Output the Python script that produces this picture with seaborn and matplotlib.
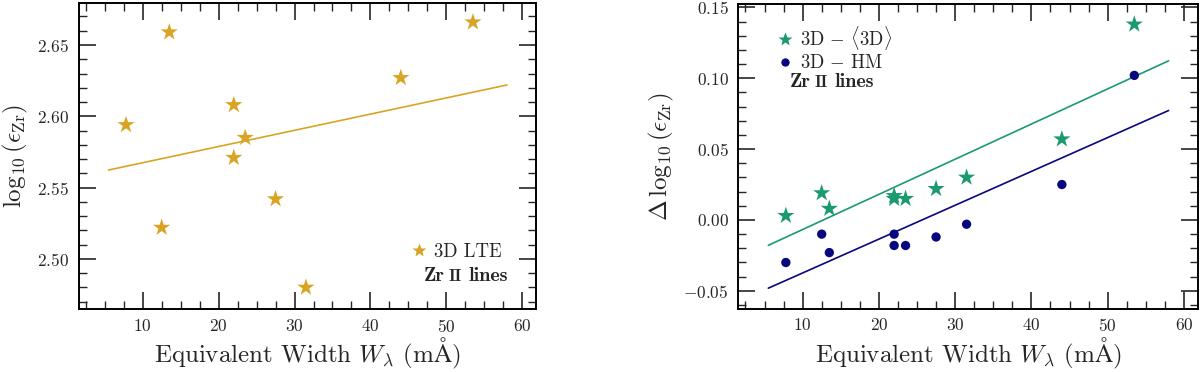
from matplotlib import pyplot as plt
from matplotlib.lines import Line2D
from matplotlib.ticker import MultipleLocator
import seaborn as sns
import numpy as np

# Data
ew = [7.8, 12.5, 13.5, 22.0, 22.0, 23.5, 27.5, 31.5, 44.0, 53.5]
abund_3d_lte = [2.594, 2.522, 2.659, 2.608, 2.571, 2.585, 2.542, 2.480, 2.627, 2.666]
delta_3d_mean3d = [0.003, 0.019, 0.008, 0.017, 0.015, 0.015, 0.022, 0.030, 0.057, 0.138]
delta_3d_hm = [-0.030, -0.010, -0.023, -0.010, -0.018, -0.018, -0.012, -0.003, 0.025, 0.102]
fit_range = [5.5, 58.0]

gold = '#d9a424'
green = '#1b9a6f'
navy = '#08087e'

sns.set_style("ticks")
plt.rcParams.update({
    'font.family': 'serif',
    'font.serif': ['cmr10'],
    'mathtext.fontset': 'cm',
    'axes.formatter.use_mathtext': True,
    'axes.linewidth': 1.4,
    'axes.edgecolor': 'black',
    'xtick.direction': 'in',
    'ytick.direction': 'in',
    'xtick.top': True,
    'ytick.right': True,
    'xtick.major.size': 12.5,
    'ytick.major.size': 12.5,
    'xtick.minor.size': 6,
    'ytick.minor.size': 6,
    'xtick.major.width': 1.2,
    'ytick.major.width': 1.2,
    'xtick.minor.width': 1.0,
    'ytick.minor.width': 1.0,
    'xtick.labelsize': 12.5,
    'ytick.labelsize': 12.5,
    'xtick.major.pad': 6,
    'ytick.major.pad': 7,
    'axes.labelsize': 18,
})


def fit_line(x, y):
    "Least-squares straight line evaluated over the fit range."
    p = np.polyfit(x, y, 1)
    xs = np.array(fit_range)
    return xs, np.polyval(p, xs)


def style_axes(ax):
    ax.xaxis.set_major_locator(MultipleLocator(10))
    ax.xaxis.set_minor_locator(MultipleLocator(2.5))
    ax.yaxis.set_major_locator(MultipleLocator(0.05))
    ax.yaxis.set_minor_locator(MultipleLocator(0.01))
    ax.tick_params(which='both', top=True, right=True, direction='in')
    ax.set_xlim(1.57, 61.8)
    ax.set_xlabel(r'Equivalent Width $W_\lambda$ (m$\mathrm{\AA}$)', labelpad=1)


def zr_label(ax, x, y):
    "Bold 'Zr II lines' with small-caps style ionisation stage."
    t1 = ax.text(x, y, 'Zr', transform=ax.transAxes, family='cmb10',
                 fontsize=14.5, va='center', ha='left')
    t2 = ax.annotate('II', xy=(1, 0), xycoords=t1, xytext=(3, 0.3),
                     textcoords='offset points', family='cmb10',
                     fontsize=12, va='bottom', ha='left')
    ax.annotate('lines', xy=(1, 0), xycoords=t2, xytext=(4.5, -0.3),
                textcoords='offset points', family='cmb10',
                fontsize=14.5, va='bottom', ha='left')


fig = plt.figure(figsize=(12, 3.72), dpi=100)
ax1 = fig.add_axes([0.0656, 0.1685, 0.381, 0.824])
ax2 = fig.add_axes([0.6153, 0.169, 0.3827, 0.820])

# Left panel: 3D LTE abundances
sns.scatterplot(x=ew, y=abund_3d_lte, ax=ax1, marker='*', s=170,
                color=gold, edgecolor='none', zorder=3)
fx, fy = fit_line(ew, abund_3d_lte)
ax1.plot(fx, fy, color=gold, lw=1.2, zorder=2)
style_axes(ax1)
ax1.set_ylim(2.4647, 2.6796)
ax1.set_ylabel(r'$\log_{10}(\epsilon_{\mathrm{Zr}})$', labelpad=5)

h1 = [Line2D([], [], lw=0, marker='*', markersize=10, color=gold, markeredgecolor='none')]
ax1.legend(h1, ['3D LTE'], loc='center left', bbox_to_anchor=(0.728, 0.188),
           frameon=False, fontsize=13.5, handlelength=0.8, handletextpad=0.4,
           borderpad=0, borderaxespad=0)
zr_label(ax1, 0.755, 0.110)

# Right panel: abundance differences
sns.scatterplot(x=ew, y=delta_3d_mean3d, ax=ax2, marker='*', s=170,
                color=green, edgecolor='none', zorder=3)
sns.scatterplot(x=ew, y=delta_3d_hm, ax=ax2, marker='o', s=45,
                color=navy, edgecolor='none', zorder=3)
fx, fy = fit_line(ew, delta_3d_mean3d)
ax2.plot(fx, fy, color=green, lw=1.2, zorder=2)
fx, fy = fit_line(ew, delta_3d_hm)
ax2.plot(fx, fy, color=navy, lw=1.2, zorder=2)
style_axes(ax2)
ax2.set_ylim(-0.0629, 0.1523)
ax2.set_ylabel(r'$\Delta\,\log_{10}(\epsilon_{\mathrm{Zr}})$', labelpad=5)

h2 = [Line2D([], [], lw=0, marker='*', markersize=10, color=green, markeredgecolor='none'),
      Line2D([], [], lw=0, marker='o', markersize=6, color=navy, markeredgecolor='none')]
ax2.legend(h2, [r'3D $-$ $\langle$3D$\rangle$', r'3D $-$ HM'], loc='center left',
           bbox_to_anchor=(0.086, 0.855), frameon=False, fontsize=13.5,
           handlelength=0.8, handletextpad=0.4, labelspacing=0.1,
           borderpad=0, borderaxespad=0)
zr_label(ax2, 0.112, 0.745)

fig.savefig('out.png', dpi=100)
